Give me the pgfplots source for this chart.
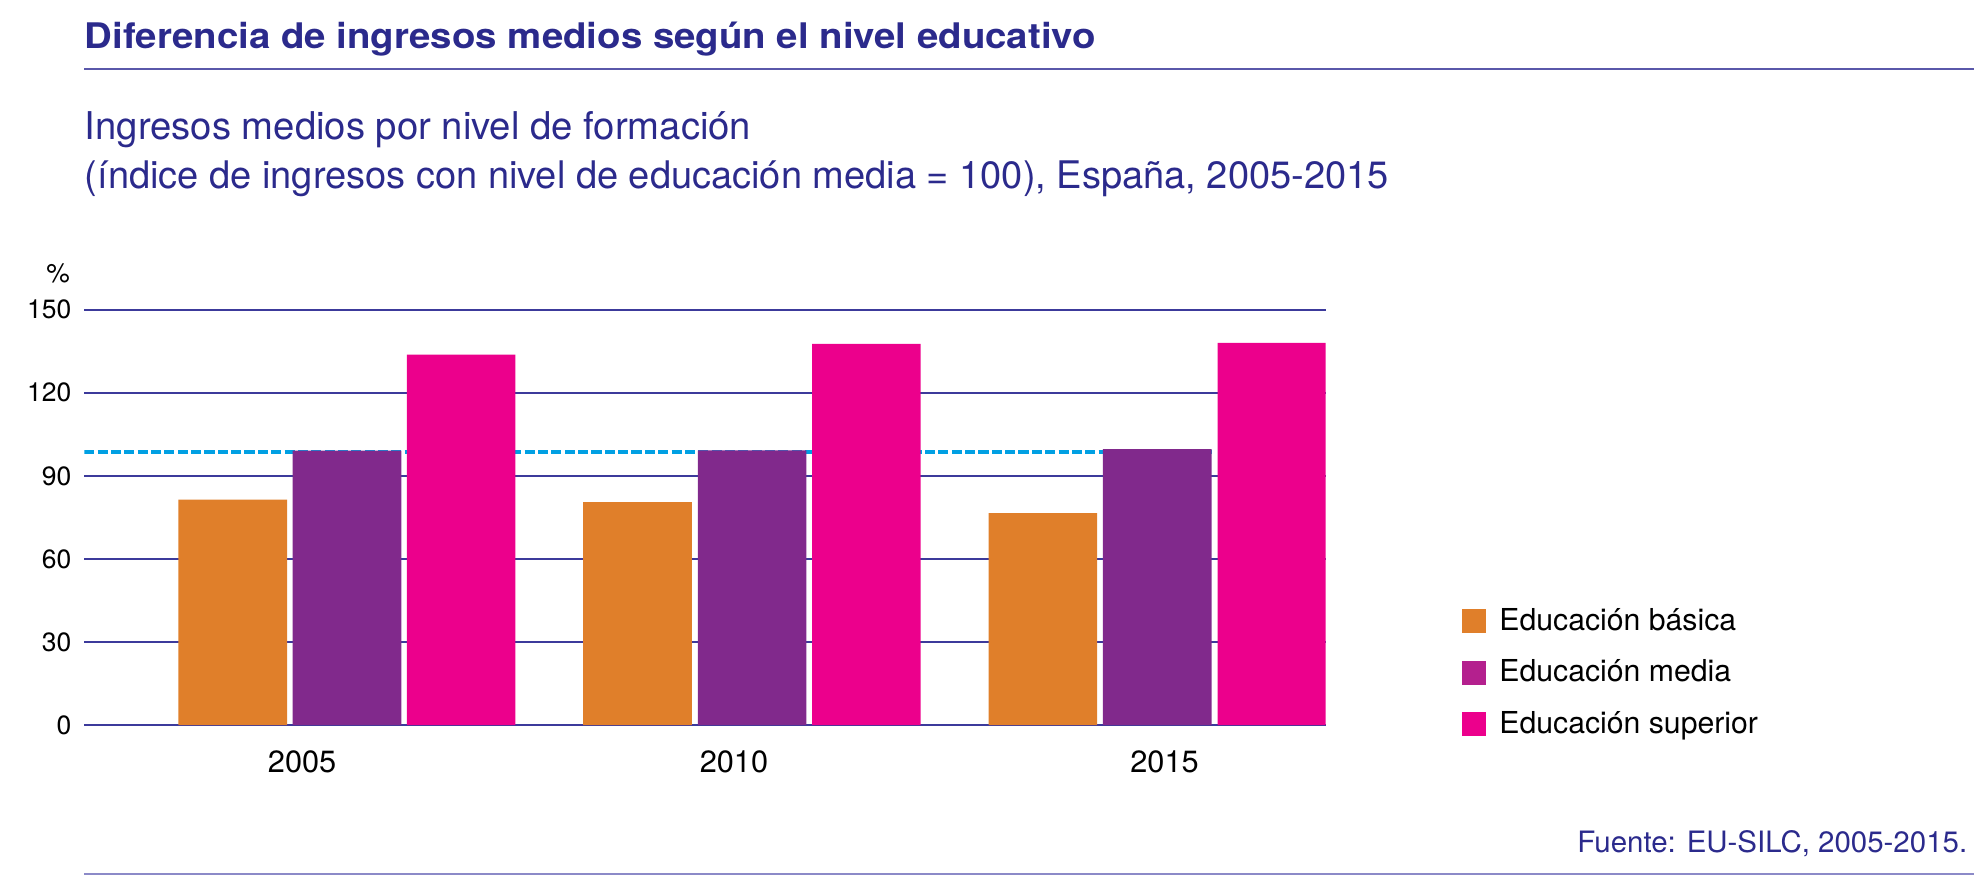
\documentclass[border=0pt]{standalone}
\usepackage{pgfplots}
\pgfplotsset{compat=1.18}
\usepackage{fontspec}
\setmainfont{TeX Gyre Heros}
\newfontfamily\titlefont[FakeStretch=1.09]{TeX Gyre Heros}
\definecolor{titleblue}{RGB}{43,42,140}
\definecolor{gridblue}{RGB}{60,58,155}
\definecolor{dashblue}{RGB}{0,160,227}
\definecolor{cbasic}{RGB}{224,127,42}
\definecolor{cmedia}{RGB}{129,41,140}
\definecolor{cmedialeg}{RGB}{180,32,142}
\definecolor{csup}{RGB}{236,0,140}
\definecolor{rulecol}{RGB}{90,88,170}
\definecolor{rulecol2}{RGB}{140,138,200}
\begin{document}
\begin{tikzpicture}
\begin{scope}[x=0.5pt,y=-0.5pt]
\path[use as bounding box] (0,0) rectangle (1568,703);
\node[anchor=base west, inner sep=0pt, text=titleblue] at (67,38.5) {\titlefont\bfseries\fontsize{14}{16}\selectfont Diferencia de ingresos medios según el nivel educativo};
\draw[rulecol, line width=0.7pt] (67,55) -- (1568,55);
\node[anchor=base west, inner sep=0pt, text=titleblue] at (67,110.5) {\fontsize{15.2}{18}\selectfont Ingresos medios por nivel de formación};
\node[anchor=base west, inner sep=0pt, text=titleblue] at (67,149.5) {\fontsize{15.1}{18}\selectfont (índice de ingresos con nivel de educación media = 100), España, 2005-2015};
\node[anchor=base east, inner sep=0pt] at (56,224) {\fontsize{10.5}{12}\selectfont \%};
\node[anchor=base east, inner sep=0pt, text=titleblue] at (1563,677) {\fontsize{11.7}{14}\selectfont Fuente: EU-SILC, 2005-2015.};
\draw[rulecol2, line width=0.7pt] (67,694) -- (1568,694);
\end{scope}
\begin{axis}[
  at={(33.5pt,-288pt)}, anchor=south west,
  scale only axis, width=493pt, height=165pt,
  xmin=67, xmax=1053, ymin=0, ymax=150,
  axis line style={draw=none},
  major tick length=0pt,
  ytick={0,30,...,150},
  xtick={240,583,925},
  xticklabels={2005,2010,2015},
  ymajorgrids, grid style={gridblue, line width=0.75pt},
  /pgf/number format/assume math mode=true,
  yticklabel style={font=\fontsize{10.5}{12}\selectfont, inner sep=0pt, xshift=-5pt},
  xticklabel style={font=\fontsize{12.2}{14}\selectfont, inner sep=0pt, yshift=-9.8pt},
  legend style={at={(axis cs:1161,42.3)}, anchor=north west, draw=none, fill=none,
    inner sep=0pt, outer sep=0pt, font=\fontsize{12}{14}\selectfont,
    row sep=10.3pt, column sep=5.5pt, nodes={inner sep=0pt}},
  legend cell align=left,
  legend image code/.code={\fill[#1, draw=none] (0pt,-4.75pt) rectangle (9.5pt,4.75pt);},
]
\addplot[dashblue, line width=1.5pt, dash pattern=on 4pt off 1.3pt, forget plot] coordinates {(67,98.6) (962.5,98.6)};
\addplot[ybar, bar width=86.3, bar shift=0pt, fill=cbasic, draw=none, forget plot] coordinates {(184.9,81.4) (506.4,80.5) (828.4,76.6)};
\addplot[ybar, bar width=86.3, bar shift=0pt, fill=cmedia, draw=none, forget plot] coordinates {(275.6,99.1) (597.4,99.2) (919.2,99.7)};
\addplot[ybar, bar width=86.3, bar shift=0pt, fill=csup, draw=none, forget plot] coordinates {(366.3,133.8) (688.2,137.7) (1010.3,138.0)};
\addlegendimage{fill=cbasic, draw=none}
\addlegendentry{Educación básica}
\addlegendimage{fill=cmedialeg, draw=none}
\addlegendentry{Educación media}
\addlegendimage{fill=csup, draw=none}
\addlegendentry{Educación superior}
\end{axis}
\end{tikzpicture}
\end{document}
